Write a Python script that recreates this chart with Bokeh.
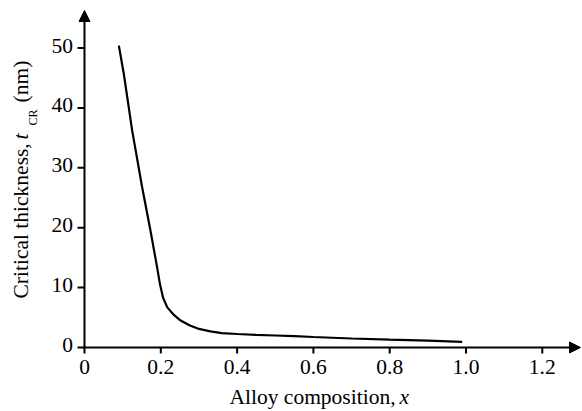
from math import pi
from bokeh.plotting import figure
from bokeh.models import Arrow, NormalHead, Label, Range1d
from bokeh.core.properties import value
from bokeh.embed import file_html
from bokeh.resources import INLINE

# ---- data ----
alloy_x = [0.090, 0.103, 0.125, 0.151, 0.173, 0.190, 0.198, 0.206, 0.217, 0.235,
           0.252, 0.275, 0.300, 0.330, 0.360, 0.400, 0.450, 0.500, 0.550, 0.600,
           0.700, 0.800, 0.900, 0.990]
t_cr = [50.4, 45.7, 36.2, 26.8, 19.5, 13.5, 10.5, 8.3, 6.7, 5.4,
        4.5, 3.7, 3.1, 2.7, 2.4, 2.25, 2.1, 2.0, 1.9, 1.75,
        1.5, 1.3, 1.15, 0.95]

x_ticks = [0, 0.2, 0.4, 0.6, 0.8, 1.0, 1.2]
x_tick_labels = ["0", "0.2", "0.4", "0.6", "0.8", "1.0", "1.2"]
y_ticks = [0, 10, 20, 30, 40, 50]
y_tick_labels = ["0", "10", "20", "30", "40", "50"]

FONT = "Liberation Serif"
FS = "21.5px"
SHIFT = 9  # baseline correction (px) observed for ~21px text

W, H = 582, 411
X0_PX, Y0_PX = 84, 347          # where (0, 0) sits on the canvas
PX_X, PX_Y = 381.5, 5.99        # pixels per data unit

p = figure(width=W, height=H, output_backend="svg", toolbar_location=None,
           x_axis_location=None, y_axis_location=None,
           x_range=Range1d(-X0_PX / PX_X, (W - X0_PX) / PX_X),
           y_range=Range1d(-(H - Y0_PX) / PX_Y, Y0_PX / PX_Y),
           min_border=0)
p.outline_line_color = None
p.xgrid.visible = False
p.ygrid.visible = False

dx = lambda px: px / PX_X
dy = lambda px: px / PX_Y

# tick marks
p.segment(x0=x_ticks, y0=[0] * len(x_ticks), x1=x_ticks, y1=[-dy(6)] * len(x_ticks),
          line_width=2, line_color="black")
p.segment(x0=[0] * len(y_ticks), y0=y_ticks, x1=[-dx(7)] * len(y_ticks), y1=y_ticks,
          line_width=2, line_color="black")

# tick labels
p.text(x=x_ticks, y=[-dy(375 - Y0_PX - SHIFT)] * len(x_ticks), text=x_tick_labels,
       text_font=value(FONT), text_font_size=value(FS), text_color="black",
       text_align="center", text_baseline="alphabetic")
p.text(x=[-dx(11.5)] * len(y_ticks), y=[t - dy(6.5 - SHIFT) for t in y_ticks],
       text=y_tick_labels,
       text_font=value(FONT), text_font_size=value(FS), text_color="black",
       text_align="right", text_baseline="alphabetic")

# axes with arrow heads
p.add_layout(Arrow(end=NormalHead(size=11, fill_color="black", line_color="black"),
                   x_start=-dx(1), y_start=0, x_end=dx(580 - X0_PX), y_end=0,
                   line_width=2, line_color="black"))
p.add_layout(Arrow(end=NormalHead(size=11, fill_color="black", line_color="black"),
                   x_start=0, y_start=-dy(1), x_end=0, y_end=dy(Y0_PX - 10),
                   line_width=2, line_color="black"))

# data curve
p.line(alloy_x, t_cr, line_width=2.2, line_color="black")


def lab(x, y, text, size=FS, italic=False, angle=0.0):
    return Label(x=x, y=y, text=text, angle=angle, text_font=FONT,
                 text_font_size=size,
                 text_font_style="italic" if italic else "normal",
                 text_color="black", text_baseline="alphabetic", text_align="left")


# y axis label: "Critical thickness, t_CR (nm)"  (canvas px positions)
base_x = 29.5 - SHIFT
ylx = -dx(X0_PX - base_x)
p.add_layout(lab(ylx, dy(Y0_PX - 298), "Critical thickness, ", angle=pi / 2))
p.add_layout(lab(ylx, dy(Y0_PX - 139), "t", italic=True, angle=pi / 2))
p.add_layout(lab(-dx(X0_PX - (37 - 5)), dy(Y0_PX - 125), "CR", size="12px", angle=pi / 2))
p.add_layout(lab(ylx, dy(Y0_PX - 102), "(nm)", angle=pi / 2))

# x axis label: "Alloy composition, x"
xly = -dy(405 - SHIFT - Y0_PX)
p.add_layout(lab(dx(229 - X0_PX), xly, "Alloy composition, "))
p.add_layout(lab(dx(399 - X0_PX), xly, "x", italic=True))

open("out.html", "w").write(file_html(p, INLINE))
